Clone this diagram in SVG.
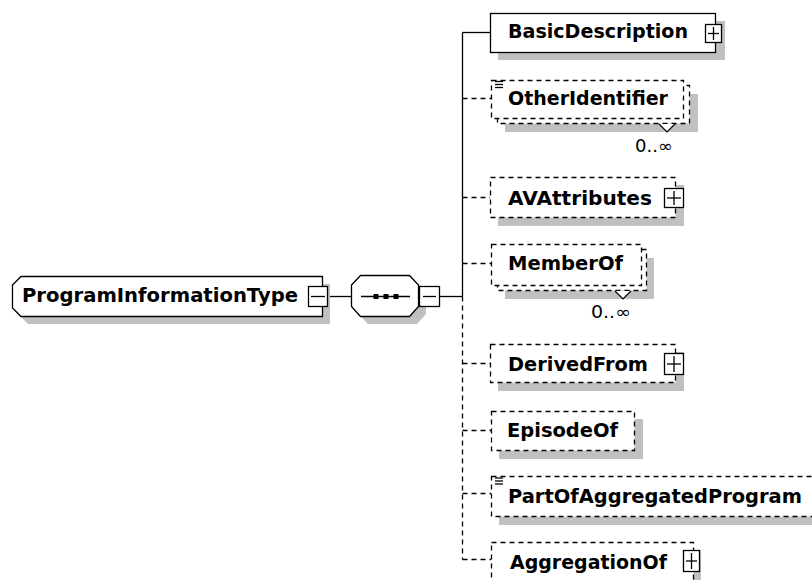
<svg xmlns="http://www.w3.org/2000/svg" width="812" height="580" viewBox="0 0 812 580">
<style>
.bg{fill:#fff}
.box{fill:#fff;stroke:#000;stroke-width:1.3}
.opt{fill:#fff;stroke:#000;stroke-width:1.3;stroke-dasharray:5 4}
.sh{fill:#c0c0c0}
.lbl{font-family:"DejaVu Sans",sans-serif;font-weight:bold;font-size:19px;fill:#000}
.mult{font-family:"DejaVu Sans",sans-serif;font-size:17px;fill:#000}
.ln{stroke:#000;stroke-width:1.3;fill:none}
.dash{stroke-dasharray:5 4}
.pm{fill:#fff;stroke:#000;stroke-width:1.3}
.caret{fill:#fff;stroke:#000;stroke-width:1.2}
</style>
<rect class="bg" x="0" y="0" width="812" height="580"/>

<g id="connectors">
<line class="ln" x1="327" y1="296.5" x2="351" y2="296.5"/>
<line class="ln" x1="440" y1="296.5" x2="462.5" y2="296.5"/>
<line class="ln" x1="462.5" y1="32.5" x2="462.5" y2="296.5"/>
<line class="ln dash" x1="462.5" y1="296.5" x2="462.5" y2="559.5"/>
<line class="ln" x1="462.5" y1="32.5" x2="490" y2="32.5"/>
<line class="ln dash" x1="462.5" y1="98.5" x2="491" y2="98.5"/>
<line class="ln dash" x1="462.5" y1="197.5" x2="490" y2="197.5"/>
<line class="ln dash" x1="462.5" y1="263.5" x2="491" y2="263.5"/>
<line class="ln dash" x1="462.5" y1="363.5" x2="490" y2="363.5"/>
<line class="ln dash" x1="462.5" y1="430.5" x2="491" y2="430.5"/>
<line class="ln dash" x1="462.5" y1="493.5" x2="491" y2="493.5"/>
<line class="ln dash" x1="462.5" y1="559.5" x2="491" y2="559.5"/>
</g>

<g id="ProgramInformationType">
<polygon class="sh" points="28,284 330,284 330,324 28,324 20,316 20,292"/>
<polygon class="box" points="21,276.5 322.5,276.5 322.5,316.5 21,316.5 12.5,308 12.5,285"/>
<text class="lbl" x="22" y="302" textLength="276" lengthAdjust="spacingAndGlyphs">ProgramInformationType</text>
<rect class="pm" x="308.5" y="286.5" width="19" height="20"/>
<line class="ln" x1="311" y1="296.5" x2="325" y2="296.5"/>
</g>

<g id="sequence">
<polygon class="sh" points="368,283 417,283 426,293 426,314 417,324 368,324 359,314 359,293"/>
<polygon class="box" points="360.5,275.5 409.5,275.5 418.5,285 418.5,306.5 409.5,316.5 360.5,316.5 351.5,306.5 351.5,285"/>
<line class="ln" x1="361" y1="296.5" x2="410" y2="296.5"/>
<rect x="373.5" y="294" width="5" height="5" fill="#000"/>
<rect x="383.5" y="294" width="5" height="5" fill="#000"/>
<rect x="393.5" y="294" width="5" height="5" fill="#000"/>
<rect class="pm" x="419.5" y="286.5" width="20" height="20"/>
<line class="ln" x1="423" y1="296.5" x2="436" y2="296.5"/>
</g>

<g id="BasicDescription">
<rect class="sh" x="498" y="21" width="227" height="39"/>
<rect class="box" x="490.5" y="13.5" width="225" height="39"/>
<text class="lbl" x="508" y="38" textLength="180" lengthAdjust="spacingAndGlyphs">BasicDescription</text>
<rect class="pm" x="705.5" y="24.5" width="16" height="18"/>
<line class="ln" x1="708" y1="33.5" x2="719" y2="33.5"/>
<line class="ln" x1="713.5" y1="27" x2="713.5" y2="40"/>
</g>

<g id="OtherIdentifier">
<rect class="sh" x="505" y="94" width="193" height="38"/>
<rect class="opt" x="497.5" y="85.5" width="192" height="38"/>
<rect class="opt" x="491.5" y="80.5" width="192" height="38"/>
<line class="ln" x1="495" y1="81.5" x2="503" y2="81.5"/>
<line class="ln" x1="495" y1="84.5" x2="503" y2="84.5"/>
<line class="ln" x1="495" y1="87.5" x2="503" y2="87.5"/>
<text class="lbl" x="508" y="105" textLength="160" lengthAdjust="spacingAndGlyphs">OtherIdentifier</text>
<polyline class="caret" points="659,124 667,132 675,124"/>
<text class="mult" x="635" y="152" textLength="38" lengthAdjust="spacingAndGlyphs">0..∞</text>
</g>

<g id="AVAttributes">
<rect class="sh" x="498" y="185" width="186" height="41"/>
<rect class="opt" x="490.5" y="177.5" width="185" height="40"/>
<text class="lbl" x="508" y="205" textLength="144" lengthAdjust="spacingAndGlyphs">AVAttributes</text>
<rect class="pm" x="664.5" y="188.5" width="19" height="19"/>
<line class="ln" x1="667" y1="198" x2="681" y2="198"/>
<line class="ln" x1="674" y1="191" x2="674" y2="205"/>
</g>

<g id="MemberOf">
<rect class="sh" x="505" y="258" width="149" height="41"/>
<rect class="opt" x="497.5" y="249.5" width="149" height="41"/>
<rect class="opt" x="491.5" y="244.5" width="150" height="41"/>
<text class="lbl" x="508" y="270" textLength="115" lengthAdjust="spacingAndGlyphs">MemberOf</text>
<polyline class="caret" points="615,291 623,299 631,291"/>
<text class="mult" x="591" y="318" textLength="40" lengthAdjust="spacingAndGlyphs">0..∞</text>
</g>

<g id="DerivedFrom">
<rect class="sh" x="498" y="352" width="186" height="39"/>
<rect class="opt" x="490.5" y="344.5" width="185" height="38"/>
<text class="lbl" x="508" y="371" textLength="140" lengthAdjust="spacingAndGlyphs">DerivedFrom</text>
<rect class="pm" x="664.5" y="353.5" width="19" height="21"/>
<line class="ln" x1="667" y1="364" x2="681" y2="364"/>
<line class="ln" x1="674" y1="356" x2="674" y2="372"/>
</g>

<g id="EpisodeOf">
<rect class="sh" x="499" y="419" width="144" height="40"/>
<rect class="opt" x="491.5" y="411.5" width="143" height="39"/>
<text class="lbl" x="507" y="437" textLength="111" lengthAdjust="spacingAndGlyphs">EpisodeOf</text>
</g>

<g id="PartOfAggregatedProgram">
<rect class="sh" x="499" y="484" width="340" height="41"/>
<rect class="opt" x="491.5" y="476.5" width="340" height="40"/>
<line class="ln" x1="495" y1="478" x2="503" y2="478"/>
<line class="ln" x1="495" y1="481" x2="503" y2="481"/>
<line class="ln" x1="495" y1="484" x2="503" y2="484"/>
<text class="lbl" x="508" y="503" textLength="294" lengthAdjust="spacingAndGlyphs">PartOfAggregatedProgram</text>
</g>

<g id="AggregationOf">
<rect class="sh" x="499" y="550" width="202" height="45"/>
<rect class="opt" x="491.5" y="542.5" width="202" height="45"/>
<text class="lbl" x="510" y="569" textLength="157" lengthAdjust="spacingAndGlyphs">AggregationOf</text>
<rect class="pm" x="683.5" y="550.5" width="16" height="21"/>
<line class="ln" x1="686" y1="561" x2="697" y2="561"/>
<line class="ln" x1="691.5" y1="553" x2="691.5" y2="569"/>
</g>
</svg>
